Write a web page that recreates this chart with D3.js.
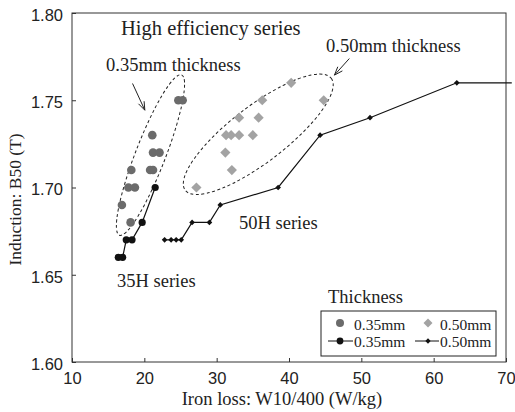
<!DOCTYPE html>
<meta charset="utf-8">
<style>
body { margin: 0; background: #fff; }
svg { font-family: "Liberation Serif", "Times New Roman", serif; }
.axis path { display: none; }
.axis line { stroke: #333; }
.axis text { font-size: 16.5px; fill: #222; }
.frame { fill: none; stroke: #333; stroke-width: 1px; }
.note { font-size: 18.5px; fill: #222; }
.ell { fill: none; stroke: #222; stroke-width: 1px; stroke-dasharray: 3,2.5; }
.arrow { fill: none; stroke: #222; stroke-width: 1px; }
.serieline { fill: none; stroke: #111; stroke-width: 1.2px; }
</style>
<body>
<script src="https://d3js.org/d3.v7.min.js"></script>
<script>
// high efficiency samples (gray markers)
var circles035 = [[24.7,1.75],[25.3,1.75],[21.1,1.73],[21.2,1.72],[22.1,1.72],[18.2,1.71],
                  [20.8,1.71],[21.2,1.71],[17.8,1.70],[18.7,1.70],[16.9,1.69],[18.1,1.68]];
var diamonds050 = [[27.2,1.70],[32.1,1.71],[31.2,1.72],[31.3,1.73],[32.0,1.73],[33.1,1.73],
                   [35.0,1.73],[33.1,1.74],[35.8,1.74],[36.3,1.75],[40.3,1.76],[44.8,1.75]];
// H series lines (black)
var series35H = [[16.4,1.66],[17.0,1.66],[17.5,1.67],[18.3,1.67],[19.7,1.68],[21.5,1.70]];
var series50H = [[22.8,1.67],[23.7,1.67],[24.4,1.67],[25.1,1.67],[26.6,1.68],[29.0,1.68],
                 [30.5,1.69],[38.5,1.70],[44.3,1.73],[51.2,1.74],[63.2,1.76],[70.8,1.76]];
var xTicks = [10,20,30,40,50,60,70];
var yTicks = [1.60,1.65,1.70,1.75,1.80];
var legendLabels = ["0.35mm","0.50mm","0.35mm","0.50mm"];

var margin = {top: 13, right: 9, bottom: 50, left: 72},
    width = 515 - margin.left - margin.right,
    height = 412 - margin.top - margin.bottom;

var x = d3.scaleLinear().domain([10,70]).range([0,width]);
var y = d3.scaleLinear().domain([1.60,1.80]).range([height,0]);

var svg = d3.select("body").append("svg")
    .attr("width", 515)
    .attr("height", 412)
  .append("g")
    .attr("transform", "translate(" + margin.left + "," + margin.top + ")");

svg.append("g")
    .attr("class", "x axis")
    .attr("transform", "translate(0," + height + ")")
    .call(d3.axisBottom(x).tickValues(xTicks).tickSize(-4).tickPadding(10).tickFormat(d3.format("d")));

svg.append("g")
    .attr("class", "y axis")
    .call(d3.axisLeft(y).tickValues(yTicks).tickSize(-4).tickPadding(9).tickFormat(d3.format(".2f")))
  .selectAll("text").attr("dy", "0.45em");

svg.append("rect").attr("class", "frame")
    .attr("width", width).attr("height", height);

svg.append("text").attr("class", "note")
    .attr("x", width/2 - 7).attr("y", height + 43)
    .attr("text-anchor", "middle")
    .text("Iron loss: W10/400 (W/kg)");

svg.append("text").attr("class", "note")
    .style("font-size", "17.5px")
    .attr("transform", "translate(-51," + (height/2 + 12) + ")rotate(-90)")
    .attr("text-anchor", "middle")
    .text("Induction: B50 (T)");

// dashed ellipses round the two groups
function ellipse(cx, cy, a, b, ang) {
  svg.append("ellipse").attr("class", "ell")
      .attr("rx", a).attr("ry", b)
      .attr("transform", "translate(" + x(cx) + "," + y(cy) + ")rotate(" + ang + ")");
}
ellipse(20.85, 1.7186, 86, 15, -68.8);
ellipse(35.75, 1.7305, 92, 28, -37.5);

function arrow(x1, y1, x2, y2) {
  var p1 = [x(x1), y(y1)], p2 = [x(x2), y(y2)];
  var t = Math.atan2(p2[1]-p1[1], p2[0]-p1[0]), h = 9, s = 0.35;
  svg.append("path").attr("class", "arrow")
      .attr("d", "M" + p1 + "L" + p2 +
        "M" + [p2[0] - h*Math.cos(t - s), p2[1] - h*Math.sin(t - s)] + "L" + p2 +
        "L" + [p2[0] - h*Math.cos(t + s), p2[1] - h*Math.sin(t + s)]);
}
arrow(18.37, 1.7596, 20.07, 1.7443);
arrow(48.34, 1.7739, 46.28, 1.7644);

var line = d3.line().x(function(d) { return x(d[0]); }).y(function(d) { return y(d[1]); });

svg.append("path").attr("class", "serieline").attr("d", line(series35H));
svg.append("path").attr("class", "serieline").attr("d", line(series50H));

svg.selectAll(".dot35")
    .data(circles035)
  .enter().append("circle")
    .attr("cx", function(d) { return x(d[0]); })
    .attr("cy", function(d) { return y(d[1]); })
    .attr("r", 4.3)
    .attr("fill", "#6b6b6b");

var diamond = d3.symbol().type(d3.symbolSquare);
svg.selectAll(".dia50")
    .data(diamonds050)
  .enter().append("path")
    .attr("transform", function(d) { return "translate(" + x(d[0]) + "," + y(d[1]) + ")rotate(45)"; })
    .attr("d", diamond.size(52)())
    .attr("fill", "#a3a3a3");

svg.selectAll(".b35")
    .data(series35H)
  .enter().append("circle")
    .attr("cx", function(d) { return x(d[0]); })
    .attr("cy", function(d) { return y(d[1]); })
    .attr("r", 3.6)
    .attr("fill", "#111");

svg.selectAll(".b50")
    .data(series50H.filter(function(d) { return d[0] <= 70; }))
  .enter().append("path")
    .attr("transform", function(d) { return "translate(" + x(d[0]) + "," + y(d[1]) + ")rotate(45)"; })
    .attr("d", diamond.size(16)())
    .attr("fill", "#111");

// labels
svg.append("text").attr("x", 49).attr("y", 22).style("font-size", "20.5px").attr("fill", "#222")
    .text("High efficiency series");
svg.append("text").attr("class", "note").attr("x", 34).attr("y", 58).text("0.35mm thickness");
svg.append("text").attr("class", "note").attr("x", 254).attr("y", 39).text("0.50mm thickness");
svg.append("text").attr("class", "note").attr("x", 167).attr("y", 216).text("50H series");
svg.append("text").attr("class", "note").attr("x", 45).attr("y", 274).text("35H series");

// legend
var lg = svg.append("g").attr("transform", "translate(249,298)");
lg.append("text").attr("class", "note").attr("x", 7).attr("y", -8).text("Thickness");
lg.append("rect").attr("width", 175).attr("height", 45)
    .attr("fill", "#fff").attr("stroke", "#222");
lg.selectAll(".lt")
    .data(legendLabels)
  .enter().append("text")
    .attr("class", "note")
    .style("font-size", "15.5px")
    .attr("x", function(d, i) { return i % 2 ? 119 : 33; })
    .attr("y", function(d, i) { return i < 2 ? 19 : 36; })
    .text(function(d) { return d; });
lg.append("circle").attr("cx", 19).attr("cy", 12).attr("r", 4).attr("fill", "#6b6b6b");
lg.append("path").attr("transform", "translate(107,12)rotate(45)").attr("d", diamond.size(40)()).attr("fill", "#a3a3a3");
lg.append("line").attr("x1", 7).attr("x2", 32).attr("y1", 30).attr("y2", 30).attr("stroke", "#111");
lg.append("circle").attr("cx", 19).attr("cy", 30).attr("r", 3.4).attr("fill", "#111");
lg.append("line").attr("x1", 94).attr("x2", 118).attr("y1", 30).attr("y2", 30).attr("stroke", "#111");
lg.append("path").attr("transform", "translate(107,30)rotate(45)").attr("d", diamond.size(14)()).attr("fill", "#111");
</script>
